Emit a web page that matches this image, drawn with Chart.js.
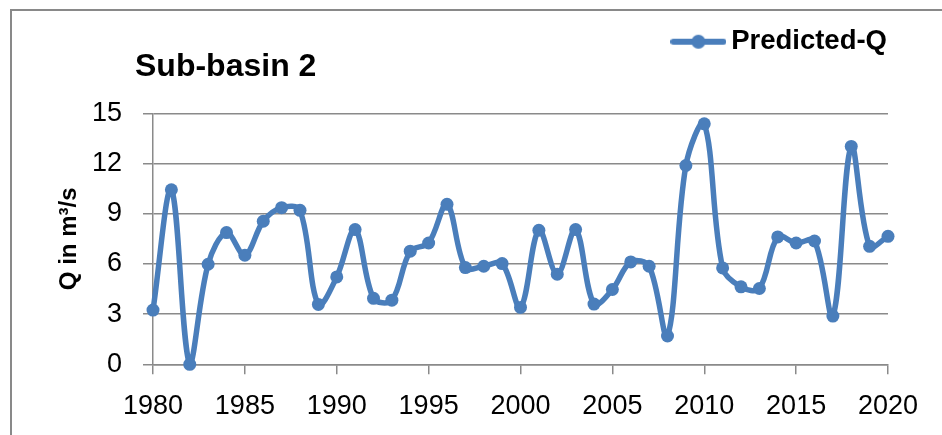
<!DOCTYPE html>
<html>
<head>
<meta charset="utf-8">
<title>Sub-basin 2 – Predicted-Q</title>
<script src="https://cdn.jsdelivr.net/npm/chart.js@4.4.1/dist/chart.umd.min.js"></script>
<style>
  html, body { margin: 0; padding: 0; background: #ffffff; overflow: hidden; }
  #wrap { position: relative; width: 942px; height: 435px; }
  /* frame of the chart object: only its top and left edges fall inside the page */
  #frame {
    position: absolute; left: 10px; top: 9px; width: 1000px; height: 500px;
    border-top: 2px solid #898989; border-left: 2px solid #898989;
  }
  #chart { position: absolute; left: 0; top: 0; }
</style>
</head>
<body>
<div id="wrap">
  <div id="frame"></div>
  <canvas id="chart" width="942" height="435"></canvas>
</div>
<script>
// Annual predicted discharge, sub-basin 2
const years = [
  1980, 1981, 1982, 1983, 1984, 1985, 1986, 1987, 1988, 1989,
  1990, 1991, 1992, 1993, 1994, 1995, 1996, 1997, 1998, 1999,
  2000, 2001, 2002, 2003, 2004, 2005, 2006, 2007, 2008, 2009,
  2010, 2011, 2012, 2013, 2014, 2015, 2016, 2017, 2018, 2019, 2020
];
const predictedQ = [
  3.24, 10.43, 0.00, 5.98, 7.87, 6.52, 8.55, 9.36, 9.20, 3.58,
  5.22, 8.05, 3.94, 3.83, 6.76, 7.25, 9.56, 5.78, 5.86, 6.02,
  3.40, 8.01, 5.38, 8.05, 3.60, 4.47, 6.12, 5.86, 1.69, 11.88,
  14.37, 5.76, 4.63, 4.53, 7.61, 7.25, 7.37, 2.88, 13.02, 7.05, 7.65
];
const xTickValues = [1980, 1985, 1990, 1995, 2000, 2005, 2010, 2015, 2020];
const yTickValues = [0, 3, 6, 9, 12, 15];

const seriesName = 'Predicted-Q';
const chartTitle = 'Sub-basin 2';
const yAxisTitle = 'Q in m³/s';

const lineBlue = '#4a7ebb';
const gridGray = '#8a8a8a';
const fontFamily = '"Liberation Sans", Arial, sans-serif';

// legend sample: a short line with a round marker in the middle
function legendSample() {
  const c = document.createElement('canvas');
  c.width = 56; c.height = 16;
  const g = c.getContext('2d');
  g.strokeStyle = lineBlue;
  g.lineWidth = 6;
  g.lineCap = 'round';
  g.beginPath(); g.moveTo(3, 8); g.lineTo(53, 8); g.stroke();
  g.fillStyle = lineBlue;
  g.beginPath(); g.arc(28, 8, 7, 0, Math.PI * 2); g.fill();
  return c;
}

// the chart title starts a little left of the plot area
const titleInset = {
  id: 'titleInset',
  afterLayout(chart) {
    if (chart.titleBlock) chart.titleBlock.left = 135;
  }
};

Chart.defaults.font.family = fontFamily;
Chart.defaults.color = '#000000';

new Chart(document.getElementById('chart'), {
  type: 'line',
  data: {
    datasets: [{
      label: seriesName,
      data: years.map((yr, i) => ({ x: yr, y: predictedQ[i] })),
      borderColor: lineBlue,
      backgroundColor: lineBlue,
      borderWidth: 5.5,
      pointRadius: 6.5,
      pointBorderWidth: 0,
      pointBackgroundColor: lineBlue,
      tension: 0.35,
      fill: false,
      clip: false
    }]
  },
  plugins: [titleInset],
  options: {
    responsive: false,
    animation: false,
    events: [],
    layout: { padding: { left: 0, right: 54, top: 27, bottom: 0 } },
    plugins: {
      legend: {
        position: 'top',
        align: 'end',
        weight: 3000,
        labels: {
          usePointStyle: true,
          pointStyle: legendSample(),
          pointStyleWidth: 38,
          padding: 1,
          color: '#000000',
          font: { size: 27.5, weight: 'bold' }
        }
      },
      title: {
        display: true,
        text: chartTitle,
        align: 'start',
        position: 'top',
        weight: 1000,
        color: '#000000',
        font: { size: 32, weight: 'bold', lineHeight: 1.2 },
        padding: { top: -17.2, bottom: 26.6 }
      },
      tooltip: { enabled: false }
    },
    scales: {
      x: {
        type: 'linear',
        min: 1980,
        max: 2020,
        afterBuildTicks: s => { s.ticks = xTickValues.map(v => ({ value: v })); },
        afterFit: s => { s.height = 70.7; },
        grid: {
          drawOnChartArea: false,
          drawTicks: true,
          tickLength: 10,
          color: gridGray,
          lineWidth: 1.5
        },
        border: { display: true, color: gridGray, width: 1.5 },
        ticks: {
          padding: 16,
          maxRotation: 0,
          font: { size: 27 },
          color: '#000000',
          callback: v => String(v)
        }
      },
      y: {
        type: 'linear',
        min: 0,
        max: 15,
        afterBuildTicks: s => { s.ticks = yTickValues.map(v => ({ value: v })); },
        afterFit: s => { s.width = 153; },
        grid: {
          drawTicks: true,
          tickLength: 10,
          color: gridGray,
          lineWidth: 1.5
        },
        border: { display: true, color: gridGray, width: 1.5 },
        ticks: {
          padding: 21,
          font: { size: 27 },
          color: '#000000',
          callback: v => String(v)
        },
        title: {
          display: true,
          text: yAxisTitle,
          color: '#000000',
          font: { size: 24, weight: 'bold', lineHeight: 1.2 },
          padding: { top: 55, bottom: 0 }
        }
      }
    }
  }
});
</script>
</body>
</html>
